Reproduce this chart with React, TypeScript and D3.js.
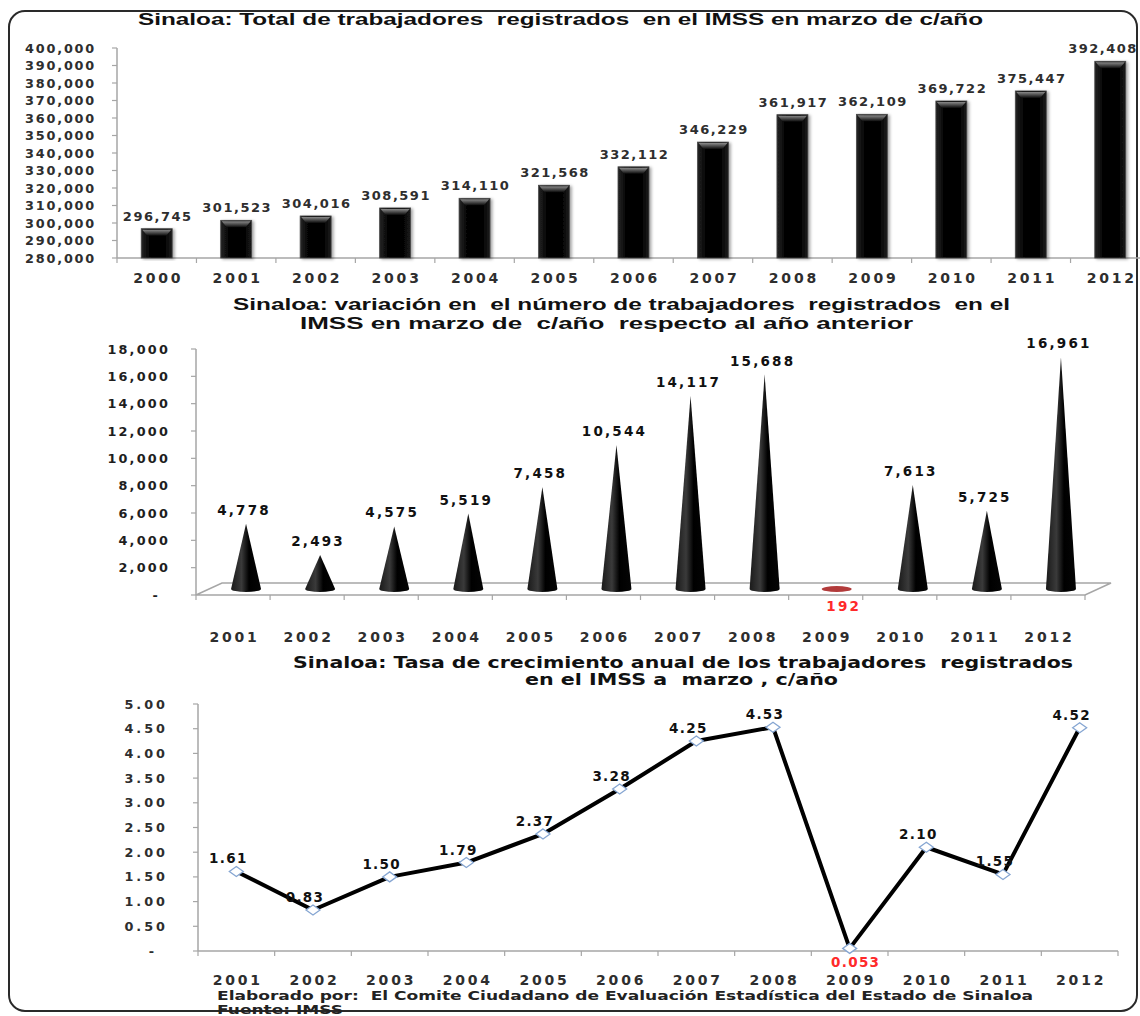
import React from "react";
import * as d3 from "d3";

// --- data ---
const years = ["2000", "2001", "2002", "2003", "2004", "2005", "2006", "2007", "2008", "2009", "2010", "2011", "2012"];
const totals = [296745, 301523, 304016, 308591, 314110, 321568, 332112, 346229, 361917, 362109, 369722, 375447, 392408];

const changeYears = ["2001", "2002", "2003", "2004", "2005", "2006", "2007", "2008", "2009", "2010", "2011", "2012"];
const changes = [4778, 2493, 4575, 5519, 7458, 10544, 14117, 15688, 192, 7613, 5725, 16961];

const rates = [1.61, 0.83, 1.5, 1.79, 2.37, 3.28, 4.25, 4.53, 0.053, 2.1, 1.55, 4.52];

const flaggedYear = "2009";

const titles = {
  total: "Sinaloa: Total de trabajadores  registrados  en el IMSS en marzo de c/año",
  change1: "Sinaloa: variación en  el número de trabajadores  registrados  en el",
  change2: "IMSS en marzo de  c/año  respecto al año anterior",
  rate1: "Sinaloa: Tasa de crecimiento anual de los trabajadores  registrados",
  rate2: "en el IMSS a  marzo , c/año",
};
const footnote1 = "Elaborado por:  El Comite Ciudadano de Evaluación Estadística del Estado de Sinaloa";
const footnote2 = "Fuente: IMSS";

const FONT = "'DejaVu Sans', Verdana, sans-serif";
const TITLE_FONT = "'Liberation Sans', Arial, sans-serif";
const AXIS = "#a6a6a6";
const TXT = "#2e2e2e";
const RED = "#ff2a2a";
const PRE = { whiteSpace: "pre" as const };

const fmt = d3.format(",");

const TotalChart = () => {
  const x = d3.scaleBand<string>().domain(years).range([117, 1150]).paddingInner(0.61).paddingOuter(0.305);
  const y = d3.scaleLinear().domain([280000, 400000]).range([258, 48]);
  const ticks = y.ticks(12);
  const step = x.step();
  const w = x.bandwidth();

  return (
    <g>
      <text x={138} y={25} fontFamily={TITLE_FONT} fontWeight="bold" fontSize={16.5} fill="#111" style={PRE}
        textLength={845} lengthAdjust="spacingAndGlyphs">{titles.total}</text>
      {/* y axis */}
      <line x1={117} x2={117} y1={y(400000)} y2={y(280000)} stroke={AXIS} strokeWidth={1.5} />
      {ticks.map((t) => (
        <g key={t}>
          <line x1={112} x2={117} y1={y(t)} y2={y(t)} stroke={AXIS} strokeWidth={1.2} />
          <text x={96} y={y(t) + 4.5} textAnchor="end" fontFamily={FONT} fontWeight="bold" fontSize={12.8}
            letterSpacing={1.8} fill={TXT}>{fmt(t)}</text>
        </g>
      ))}
      {/* x axis */}
      <line x1={117} x2={1140} y1={258} y2={258} stroke={AXIS} strokeWidth={1.5} />
      {years.map((yr, i) => (
        <line key={yr} x1={117 + i * step} x2={117 + i * step} y1={258} y2={263} stroke={AXIS} strokeWidth={1.2} />
      ))}
      {years.map((yr, i) => {
        const bx = x(yr) as number;
        const top = y(totals[i]);
        const cx = bx + w / 2;
        return (
          <g key={yr}>
            <rect x={bx} y={top} width={w} height={258 - top} fill="url(#barGrad)" stroke="#4a4a4a"
              strokeWidth={0.8} filter="url(#shadow)" />
            <path d={`M${bx + 1},${top + 1}L${bx + w - 1},${top + 1}L${bx + w - 6},${top + 7}L${bx + 6},${top + 7}Z`}
              fill="url(#bevel)" />
            <text x={Math.min(cx + 1, 1103)} y={top - 8} textAnchor="middle" fontFamily={FONT} fontWeight="bold"
              fontSize={13} letterSpacing={1.5} fill={TXT}>{fmt(totals[i])}</text>
            <text x={cx + 1.5} y={283} textAnchor="middle" fontFamily={FONT} fontWeight="bold" fontSize={14}
              letterSpacing={2.8} fill={TXT}>{yr}</text>
          </g>
        );
      })}
    </g>
  );
};

const ChangeChart = () => {
  const x = d3.scaleBand<string>().domain(changeYears).range([196, 1085]);
  const y = d3.scaleLinear().domain([0, 18000]).range([595, 349]);
  const ticks = y.ticks(9);
  const step = x.step();
  const depthX = 26;
  const depthY = -12;

  return (
    <g>
      <text x={233} y={310} fontFamily={TITLE_FONT} fontWeight="bold" fontSize={16} fill="#111" style={PRE}
        textLength={777} lengthAdjust="spacingAndGlyphs">{titles.change1}</text>
      <text x={300} y={329} fontFamily={TITLE_FONT} fontWeight="bold" fontSize={16} fill="#111" style={PRE}
        textLength={613} lengthAdjust="spacingAndGlyphs">{titles.change2}</text>
      {/* floor */}
      <path d={`M196,595L${196 + depthX},${595 + depthY}L${1085 + depthX},${595 + depthY}L1085,595Z`}
        fill="#fff" stroke={AXIS} strokeWidth={1.5} />
      <line x1={196} x2={196} y1={y(18000)} y2={595} stroke={AXIS} strokeWidth={1.5} />
      {ticks.map((t) => (
        <g key={t}>
          <line x1={191} x2={196} y1={y(t)} y2={y(t)} stroke={AXIS} strokeWidth={1.2} />
          <text x={t === 0 ? 160 : 170} y={y(t) + 4.5} textAnchor="end" fontFamily={FONT} fontWeight="bold"
            fontSize={12.8} letterSpacing={2.2} fill="#1e1e1e">{t === 0 ? "-" : fmt(t)}</text>
        </g>
      ))}
      {changeYears.map((yr, i) => (
        <line key={yr} x1={196 + i * step} x2={196 + i * step} y1={595} y2={600} stroke={AXIS} strokeWidth={1.2} />
      ))}
      <line x1={1085} x2={1085} y1={595} y2={600} stroke={AXIS} strokeWidth={1.2} />
      {changeYears.map((yr, i) => {
        const center = (x(yr) as number) + step / 2;
        const cx = center + depthX / 2;
        const base = y(0) + depthY / 2;
        const apex = y(changes[i]) + depthY / 2;
        const r = 15;
        const flagged = yr === flaggedYear;
        return (
          <g key={yr}>
            {flagged ? (
              <ellipse cx={cx - 2} cy={base} rx={r} ry={3} fill="#b23b3b" />
            ) : (
              <path d={`M${cx - r},${base}L${cx},${apex}L${cx + r},${base}A${r},3 0 0 1 ${cx - r},${base}Z`}
                fill="url(#coneGrad)" />
            )}
            <text x={flagged ? cx + 5 : cx - 2} y={flagged ? base + 22 : apex - 9} textAnchor="middle"
              fontFamily={FONT} fontWeight="bold" fontSize={13.5} letterSpacing={2.2}
              fill={flagged ? RED : "#111"}>{fmt(changes[i])}</text>
            <text x={center + 1.5} y={642} textAnchor="middle" fontFamily={FONT} fontWeight="bold" fontSize={14}
              letterSpacing={2.8} fill={TXT}>{yr}</text>
          </g>
        );
      })}
    </g>
  );
};

const RateChart = () => {
  const x = d3.scaleBand<string>().domain(changeYears).range([198, 1118]);
  const y = d3.scaleLinear().domain([0, 5]).range([951, 704]);
  const ticks = y.ticks(10);
  const step = x.step();
  const px = (yr: string) => (x(yr) as number) + step / 2;
  const line = d3
    .line<number>()
    .x((_, i) => px(changeYears[i]))
    .y((d) => y(d));

  return (
    <g>
      <text x={293} y={668} fontFamily={FONT} fontWeight="bold" fontSize={15} fill="#111" style={PRE}
        textLength={780} lengthAdjust="spacingAndGlyphs">{titles.rate1}</text>
      <text x={525} y={685} fontFamily={FONT} fontWeight="bold" fontSize={15} fill="#111" style={PRE}
        textLength={313} lengthAdjust="spacingAndGlyphs">{titles.rate2}</text>
      <line x1={198} x2={198} y1={y(5)} y2={y(0)} stroke={AXIS} strokeWidth={1.5} />
      {ticks.map((t) => (
        <g key={t}>
          <line x1={193} x2={198} y1={y(t)} y2={y(t)} stroke={AXIS} strokeWidth={1.2} />
          <text x={t === 0 ? 157 : 168} y={y(t) + 4.5} textAnchor="end" fontFamily={FONT} fontWeight="bold"
            fontSize={12.8} letterSpacing={3} fill={TXT}>{t === 0 ? "-" : t.toFixed(2)}</text>
        </g>
      ))}
      <line x1={198} x2={1118} y1={951} y2={951} stroke={AXIS} strokeWidth={1.5} />
      {changeYears.map((yr, i) => (
        <line key={yr} x1={198 + i * step} x2={198 + i * step} y1={951} y2={956} stroke={AXIS} strokeWidth={1.2} />
      ))}
      <line x1={1118} x2={1118} y1={951} y2={956} stroke={AXIS} strokeWidth={1.2} />
      <path d={line(rates) ?? ""} fill="none" stroke="#000" strokeWidth={4} strokeLinejoin="round" />
      {changeYears.map((yr, i) => {
        const cx = px(yr);
        const cy = y(rates[i]);
        const flagged = yr === flaggedYear;
        const label = rates[i] < 0.1 ? rates[i].toFixed(3) : rates[i].toFixed(2);
        return (
          <g key={yr}>
            <path d={`M${cx},${cy - 5}L${cx + 7},${cy}L${cx},${cy + 5}L${cx - 7},${cy}Z`} fill="#fff"
              stroke="#86a6d2" strokeWidth={1.3} />
            <text x={flagged ? cx + 6 : cx - 8} y={flagged ? cy + 19 : cy - 8} textAnchor="middle" fontFamily={FONT}
              fontWeight="bold" fontSize={13.5} letterSpacing={1.3} fill={flagged ? RED : "#111"}>{label}</text>
            <text x={cx + 1.5} y={985} textAnchor="middle" fontFamily={FONT} fontWeight="bold" fontSize={14}
              letterSpacing={2.8} fill={TXT}>{yr}</text>
          </g>
        );
      })}
      <text x={217} y={1000} fontFamily={FONT} fontWeight="bold" fontSize={12} fill="#222" style={PRE}
        textLength={816} lengthAdjust="spacingAndGlyphs">{footnote1}</text>
      <text x={217} y={1014} fontFamily={FONT} fontWeight="bold" fontSize={12} fill="#222" textLength={126}
        lengthAdjust="spacingAndGlyphs">{footnote2}</text>
    </g>
  );
};

const App = () => {
  return (
    <svg width={1140} height={1016} style={{ position: "absolute", left: 0, top: 0, background: "#fff" }}>
      <defs>
        <linearGradient id="barGrad" x1="0" x2="1" y1="0" y2="0">
          <stop offset="0" stopColor="#262626" />
          <stop offset="0.25" stopColor="#050505" />
          <stop offset="0.75" stopColor="#000" />
          <stop offset="1" stopColor="#1e1e1e" />
        </linearGradient>
        <linearGradient id="bevel" x1="0" x2="0" y1="0" y2="1">
          <stop offset="0" stopColor="#8a8a8a" />
          <stop offset="1" stopColor="#0a0a0a" />
        </linearGradient>
        <linearGradient id="coneGrad" x1="0" x2="1" y1="0" y2="0">
          <stop offset="0" stopColor="#1a1a1a" />
          <stop offset="0.35" stopColor="#3a3a3a" />
          <stop offset="0.6" stopColor="#000" />
          <stop offset="1" stopColor="#050505" />
        </linearGradient>
        <filter id="shadow" x="-20%" y="-5%" width="150%" height="115%">
          <feDropShadow dx="2" dy="1" stdDeviation="1.5" floodColor="#000" floodOpacity="0.35" />
        </filter>
      </defs>
      <rect x={9} y={11} width={1128} height={1000} rx={16} fill="none" stroke="#2a2a2a" strokeWidth={2} />
      <TotalChart />
      <ChangeChart />
      <RateChart />
    </svg>
  );
};

export default App;
